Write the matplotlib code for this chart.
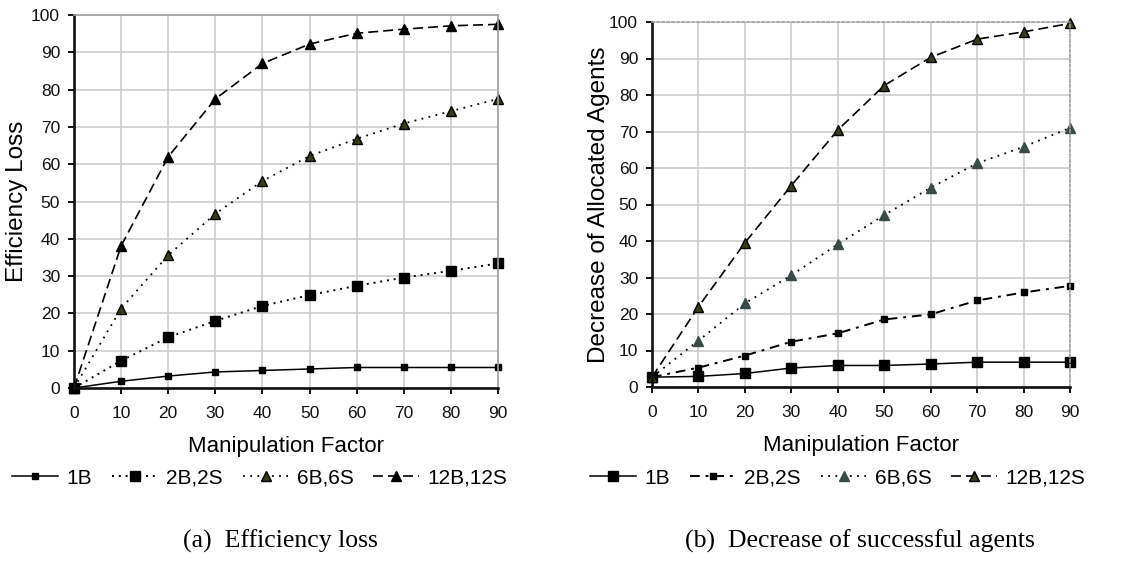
import matplotlib.pyplot as plt

# ---------------------------------------------------
# DATA
# ---------------------------------------------------

factor = [0, 10, 20, 30, 40, 50, 60, 70, 80, 90]

series_names = ["1B", "2B,2S", "6B,6S", "12B,12S"]

# (a) efficiency loss
loss_1b = [0, 1.8, 3.2, 4.3, 4.7, 5.1, 5.5, 5.5, 5.5, 5.5]
loss_2b = [0, 7.3, 13.6, 18.0, 22.0, 24.9, 27.4, 29.6, 31.4, 33.4]
loss_6b = [0, 21.3, 35.6, 46.7, 55.5, 62.2, 66.8, 70.9, 74.2, 77.5]
loss_12b = [0, 38.1, 62.0, 77.5, 87.0, 92.2, 95.1, 96.2, 97.1, 97.5]

# (b) decrease of allocated agents
dec_1b = [2.7, 2.9, 3.7, 5.2, 5.9, 5.9, 6.3, 6.8, 6.8, 6.8]
dec_2b = [2.7, 5.3, 8.6, 12.4, 14.7, 18.5, 19.9, 23.7, 25.9, 27.7]
dec_6b = [2.7, 12.7, 22.9, 30.6, 39.1, 47.1, 54.6, 61.3, 65.8, 71.0]
dec_12b = [2.7, 22.0, 39.5, 55.2, 70.4, 82.6, 90.3, 95.3, 97.3, 99.6]

# ---------------------------------------------------
# STYLE
# ---------------------------------------------------

plt.rcParams["font.family"] = ["Liberation Sans", "DejaVu Sans"]

grid_color = "#c8c8c8"
olive = "#3a3a1c"
slate = "#3a4a48"

fig = plt.figure(figsize=(11.27, 5.61), dpi=100)

ax1 = fig.add_axes([74 / 1127, 1 - 388 / 561, 424 / 1127, 373 / 561])
ax2 = fig.add_axes([652 / 1127, 1 - 387 / 561, 418 / 1127, 365 / 561])


def style_axes(ax, ylabel, border_style, label_x):
    ax.set_xlim(0, 90)
    ax.set_ylim(0, 100)
    ax.set_xticks(factor)
    ax.set_yticks(range(0, 101, 10))
    ax.grid(True, color=grid_color, linewidth=1.1)
    ax.set_axisbelow(True)
    for side in ["left", "bottom"]:
        ax.spines[side].set_linewidth(1.9)
        ax.spines[side].set_color("#111111")
    for side in ["top", "right"]:
        ax.spines[side].set_color("#a0a0a0")
        ax.spines[side].set_linewidth(1.2)
        ax.spines[side].set_linestyle(border_style)
    ax.tick_params(axis="both", direction="out", length=4, width=1.4,
                   labelsize=12.5, colors="#111111")
    ax.tick_params(axis="x", pad=9)
    ax.tick_params(axis="y", pad=6)
    ax.set_xlabel("Manipulation Factor", fontsize=16, labelpad=11)
    ax.set_ylabel(ylabel, fontsize=17.5)
    ax.yaxis.set_label_coords(label_x, 0.5)


# ---------------------------------------------------
# (a) EFFICIENCY LOSS
# ---------------------------------------------------

style_axes(ax1, "Efficiency Loss", "solid", -0.108)

h1 = []
h1 += ax1.plot(factor, loss_1b, color="black", linestyle="-", linewidth=1.1,
               marker="s", markersize=4.5, clip_on=False)
h1 += ax1.plot(factor, loss_2b, color="black", linestyle=(0, (1, 2.5)), linewidth=1.4,
               marker="s", markersize=7, clip_on=False)
h1 += ax1.plot(factor, loss_6b, color="black", linestyle=(0, (1, 3)), linewidth=1.3,
               marker="^", markersize=7, markerfacecolor=olive,
               markeredgecolor="black", clip_on=False)
h1 += ax1.plot(factor, loss_12b, color="black", linestyle=(0, (6, 3)), linewidth=1.2,
               marker="^", markersize=7.5, clip_on=False)

fig.legend(h1, series_names, loc="center", bbox_to_anchor=(260 / 1127, 1 - 478 / 561),
           ncol=4, frameon=False, fontsize=15, handlelength=2.2,
           handletextpad=0.4, columnspacing=0.95)

# ---------------------------------------------------
# (b) DECREASE OF SUCCESSFUL AGENTS
# ---------------------------------------------------

style_axes(ax2, "Decrease of Allocated Agents", (0, (1.5, 1.5)), -0.100)

h2 = []
h2 += ax2.plot(factor, dec_1b, color="black", linestyle="-", linewidth=1.1,
               marker="s", markersize=7, clip_on=False)
h2 += ax2.plot(factor, dec_2b, color="black", linestyle=(0, (5, 3, 1.5, 3)), linewidth=1.4,
               marker="s", markersize=4.5, clip_on=False)
h2 += ax2.plot(factor, dec_6b, color="black", linestyle=(0, (1, 3)), linewidth=1.3,
               marker="^", markersize=6.5, markerfacecolor=slate,
               markeredgecolor=slate, clip_on=False)
h2 += ax2.plot(factor, dec_12b, color="black", linestyle=(0, (6, 3)), linewidth=1.2,
               marker="^", markersize=6.5, markerfacecolor=olive,
               markeredgecolor="black", clip_on=False)

fig.legend(h2, series_names, loc="center", bbox_to_anchor=(838 / 1127, 1 - 478 / 561),
           ncol=4, frameon=False, fontsize=15, handlelength=2.2,
           handletextpad=0.4, columnspacing=0.95)

# ---------------------------------------------------
# CAPTIONS
# ---------------------------------------------------

fig.text(280 / 1127, 1 - 541 / 561, "(a)  Efficiency loss", ha="center", va="center",
         fontsize=18.5, family=["Liberation Serif", "DejaVu Serif"])

fig.text(860 / 1127, 1 - 541 / 561, "(b)  Decrease of successful agents", ha="center",
         va="center", fontsize=18.5, family=["Liberation Serif", "DejaVu Serif"])

plt.savefig(
    "out.png",
    dpi=100
)
